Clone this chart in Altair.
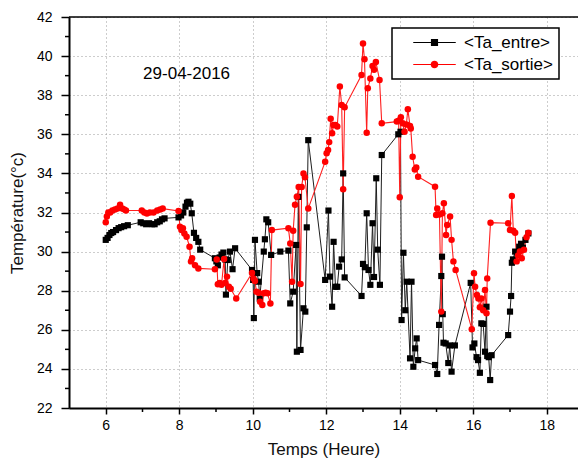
import altair as alt
import pandas as pd

# ---- data ----
ent_t = [6.00, 6.05, 6.10, 6.15, 6.20, 6.28, 6.35, 6.42, 6.50, 6.60,
         6.95, 7.02, 7.10, 7.18, 7.26, 7.33, 7.40, 7.47, 7.53, 7.60,
         7.98, 8.05, 8.11, 8.17, 8.21, 8.25, 8.30, 8.34, 8.40, 8.46, 8.52, 8.57,
         8.97, 9.01, 9.05, 9.10, 9.15, 9.20, 9.25, 9.27, 9.32, 9.38, 9.45, 9.52,
         9.98, 10.01, 10.03, 10.06, 10.12, 10.16, 10.19, 10.30, 10.33, 10.37, 10.42, 10.50,
         10.75, 10.97, 11.02, 11.10, 11.18, 11.20, 11.24, 11.30, 11.38, 11.43, 11.47, 11.51,
         11.97, 12.06, 12.10, 12.16, 12.20, 12.25, 12.30, 12.35, 12.42, 12.46, 12.50,
         12.96, 13.00, 13.05, 13.10, 13.15, 13.20, 13.26, 13.30, 13.36, 13.40, 13.46, 13.51,
         13.96, 14.02, 14.05, 14.10, 14.15, 14.19, 14.28, 14.32, 14.37, 14.42, 14.46, 14.50,
         14.96, 15.02, 15.07, 15.13, 15.15, 15.17, 15.19, 15.25, 15.32, 15.36, 15.41, 15.50,
         15.93, 15.98, 16.03, 16.09, 16.13, 16.18, 16.22, 16.27, 16.32, 16.36, 16.38, 16.42, 16.46, 16.50,
         16.95, 17.00, 17.03, 17.05, 17.08, 17.14, 17.20, 17.25, 17.30, 17.35, 17.42, 17.50]
ent_v = [30.6, 30.7, 30.85, 30.95, 31.0, 31.1, 31.2, 31.25, 31.3, 31.35,
         31.5, 31.45, 31.4, 31.45, 31.4, 31.4, 31.5, 31.55, 31.65, 31.7,
         31.75, 31.85, 32.0, 32.3, 32.5, 32.55, 32.45, 31.96, 30.96, 30.7, 30.5, 30.1,
         29.66, 29.5, 29.3, 29.7, 29.85, 29.95, 29.6, 27.8, 29.57, 30.0, 29.1, 30.17,
         29.06, 28.55, 26.6, 30.6, 28.9, 28.46, 27.6, 30.0, 30.63, 31.65, 31.5, 29.83,
         30.0, 30.05, 27.35, 27.95, 30.34, 24.88, 32.8, 24.97, 27.1, 26.93, 31.24, 35.7,
         28.55, 32.1, 28.72, 27.18, 30.5, 28.2, 28.2, 29.23, 29.6, 34.0, 28.68,
         27.73, 29.37, 29.2, 31.96, 29.06, 28.3, 31.45, 28.7, 33.75, 30.1, 28.3, 34.94,
         36.0, 36.13, 26.5, 29.94, 27.0, 28.46, 24.54, 28.46, 24.11, 25.05, 25.56, 24.45,
         24.2, 23.74, 26.25, 28.75, 29.74, 26.8, 25.34, 25.3, 24.3, 25.2, 23.86, 25.2,
         28.4, 25.1, 25.3, 24.6, 24.45, 23.8, 26.33, 26.3, 24.88, 27.18, 24.66, 24.6, 23.43, 24.7,
         25.73, 26.93, 27.73, 29.43, 29.6, 30.0, 29.9, 30.25, 30.4, 30.2, 30.6, 30.93]

sor_t = [6.00, 6.03, 6.07, 6.12, 6.18, 6.25, 6.32, 6.39, 6.45, 6.50, 6.55,
         6.98, 7.05, 7.12, 7.20, 7.30, 7.40, 7.48, 7.55,
         7.98, 8.02, 8.06, 8.10, 8.14, 8.20, 8.28, 8.32, 8.35, 8.43, 8.52,
         8.97, 9.02, 9.05, 9.10, 9.15, 9.22, 9.25, 9.30, 9.35, 9.40, 9.55,
         9.98, 10.02, 10.06, 10.10, 10.16, 10.20, 10.26, 10.30, 10.35, 10.40, 10.48,
         10.52, 10.97, 11.02, 11.07, 11.10, 11.15, 11.20, 11.25, 11.30, 11.33, 11.38, 11.42, 11.51,
         11.97, 12.01, 12.05, 12.08, 12.12, 12.16, 12.20, 12.25, 12.30, 12.37, 12.42, 12.46, 12.50,
         12.96, 13.00, 13.04, 13.10, 13.13, 13.20, 13.26, 13.30, 13.35, 13.45, 13.51,
         13.92, 13.97, 14.00, 14.03, 14.08, 14.13, 14.18, 14.22, 14.28, 14.30, 14.35, 14.41, 14.45, 14.50,
         14.96, 14.99, 15.02, 15.08, 15.13, 15.16, 15.20, 15.26, 15.29, 15.37, 15.41, 15.46, 15.52,
         15.96, 16.02, 16.05, 16.10, 16.14, 16.18, 16.22, 16.27, 16.32, 16.36, 16.38, 16.47,
         16.95, 17.00, 17.05, 17.09, 17.14, 17.18, 17.22, 17.27, 17.32, 17.38, 17.45, 17.50]
sor_v = [31.5, 31.8, 32.0, 32.0, 32.1, 32.15, 32.2, 32.4, 32.2, 32.16, 32.1,
         32.1, 32.0, 31.95, 32.0, 32.0, 32.1, 32.15, 32.2,
         32.08, 31.27, 31.1, 31.2, 30.93, 30.76, 30.25, 29.5, 29.66, 29.3, 29.14,
         29.1, 29.6, 28.33, 28.4, 28.3, 29.62, 28.4, 28.72, 28.2, 28.1, 27.6,
         28.9, 28.63, 28.5, 27.95, 27.9, 27.44, 27.27, 27.87, 27.9, 27.87, 27.35,
         31.1, 31.2, 30.42, 28.46, 31.07, 32.4, 32.8, 33.3, 28.34, 33.3, 34.0, 33.8, 32.2,
         34.6, 35.03, 35.2, 35.6, 36.8, 36.05, 36.48, 36.48, 36.4, 38.44, 37.5, 33.19, 37.38,
         39.03, 40.65, 39.84, 36.08, 38.35, 38.86, 39.5, 39.3, 39.7, 38.78, 36.56,
         36.65, 36.7, 32.78, 36.87, 36.56, 36.13, 36.5, 37.28, 36.42, 36.3, 34.85, 34.2, 34.3, 33.83,
         33.32, 31.87, 32.2, 31.9, 26.93, 31.96, 32.47, 30.85, 31.36, 31.79, 30.6, 29.5, 29.06,
         26.03, 28.89, 28.2, 27.78, 27.6, 27.15, 27.6, 27.0, 28.04, 26.85, 28.63, 31.48,
         31.45, 31.1, 32.84, 31.07, 30.97, 29.5, 29.8, 30.0, 29.66, 30.1, 30.74, 30.97]

series_names = ["<Ta_entre>", "<Ta_sortie>"]
series_colors = ["#000000", "#ff0000"]
x_ticks = [6, 8, 10, 12, 14, 16, 18]
x_minor = [7, 9, 11, 13, 15, 17]
y_ticks = [22, 24, 26, 28, 30, 32, 34, 36, 38, 40, 42]
y_minor = [23, 25, 27, 29, 31, 33, 35, 37, 39, 41]
date_label = ["29-04-2016"]
date_pos = [8.2, 39.1]

FONT = "Liberation Sans"

ent = pd.DataFrame({"t": ent_t, "v": ent_v})
sor = pd.DataFrame({"t": sor_t, "v": sor_v})

xs = alt.Scale(domain=[5, 18.85], nice=False, zero=False)
ys = alt.Scale(domain=[22, 42], nice=False, zero=False)

xax = alt.Axis(values=x_ticks, title="Temps (Heure)", format="d", tickSize=6,
               labelPadding=4, titlePadding=9, grid=True, labelOverlap=False)
yax = alt.Axis(values=y_ticks, title="Température(°c)", format="d", tickSize=8,
               labelPadding=9, titlePadding=10, grid=True, labelOverlap=False)

X = alt.X("t:Q", scale=xs, axis=xax)
Y = alt.Y("v:Q", scale=ys, axis=yax)

ent_line = alt.Chart(ent).mark_line(color="#1e1e1e", strokeWidth=1).encode(x=X, y=Y)
ent_pts = alt.Chart(ent).mark_point(shape="square", filled=True, color="#000000",
                                    size=38, opacity=1).encode(x=X, y=Y)
sor_line = alt.Chart(sor).mark_line(color="#ff2020", strokeWidth=1.1).encode(x=X, y=Y)
sor_pts = alt.Chart(sor).mark_point(shape="circle", filled=True, color="#ff0000",
                                    size=42, opacity=1).encode(x=X, y=Y)

# top frame line
top_df = pd.DataFrame({"v": [42]})
top_line = alt.Chart(top_df).mark_rule(color="black", strokeWidth=1.5).encode(y=Y)

# minor ticks
ymin_df = pd.DataFrame({"v": y_minor})
ymin = alt.Chart(ymin_df).mark_rule(color="black", strokeWidth=1.5).encode(
    y=Y, x=alt.value(-4), x2=alt.value(0))
xmin_df = pd.DataFrame({"t": x_minor})
xmin = alt.Chart(xmin_df).mark_rule(color="black", strokeWidth=1.5).encode(
    x=X, y=alt.value(391), y2=alt.value(395))

# date annotation
date_df = pd.DataFrame({"t": [date_pos[0]], "v": [date_pos[1]], "label": date_label})
date_txt = alt.Chart(date_df).mark_text(font=FONT, fontSize=17, color="black",
                                        align="center", baseline="middle").encode(
    x=X, y=Y, text="label:N")

# legend-only layer
sq_path = "M-2.5,-0.07H2.5V0.07H-2.5Z M-0.42,-0.42H0.42V0.42H-0.42Z"
ci_path = ("M-2.5,-0.07H2.5V0.07H-2.5Z "
           "M0.45,0A0.45,0.45 0 1,1 -0.45,0A0.45,0.45 0 1,1 0.45,0Z")
leg = alt.Legend(title=None, orient="none", legendX=323, legendY=11,
                 strokeColor="black", fillColor="white", padding=6,
                 symbolSize=289, symbolStrokeWidth=0, symbolOpacity=1,
                 symbolOffset=28, labelOffset=21, rowPadding=4,
                 labelFontSize=17, labelFont=FONT, labelColor="black")
leg_df = pd.DataFrame({"series": series_names})
leg_layer = alt.Chart(leg_df).mark_point(filled=True, opacity=0).encode(
    color=alt.Color("series:N", scale=alt.Scale(domain=series_names, range=series_colors), legend=leg),
    shape=alt.Shape("series:N", scale=alt.Scale(domain=series_names, range=[sq_path, ci_path]), legend=leg),
)

chart = alt.layer(ent_line, sor_line, ent_pts, sor_pts, top_line, ymin, xmin,
                  date_txt, leg_layer).properties(
    width=509, height=391,
    padding={"left": 69, "top": 17, "right": 0, "bottom": 53},
    autosize="none",
).configure_view(stroke=None).configure_axis(
    domainColor="black", domainWidth=2, tickColor="black", tickWidth=1.5,
    labelColor="black", titleColor="#111111", labelFont=FONT, titleFont=FONT,
    labelFontSize=14, titleFontSize=17, titleFontWeight="normal",
    gridColor="#9a9a9a", gridDash=[1, 3], gridWidth=1
).configure_legend(strokeWidth=1.5)

chart.save("out.html", embed_options={"renderer": "svg", "actions": False})
